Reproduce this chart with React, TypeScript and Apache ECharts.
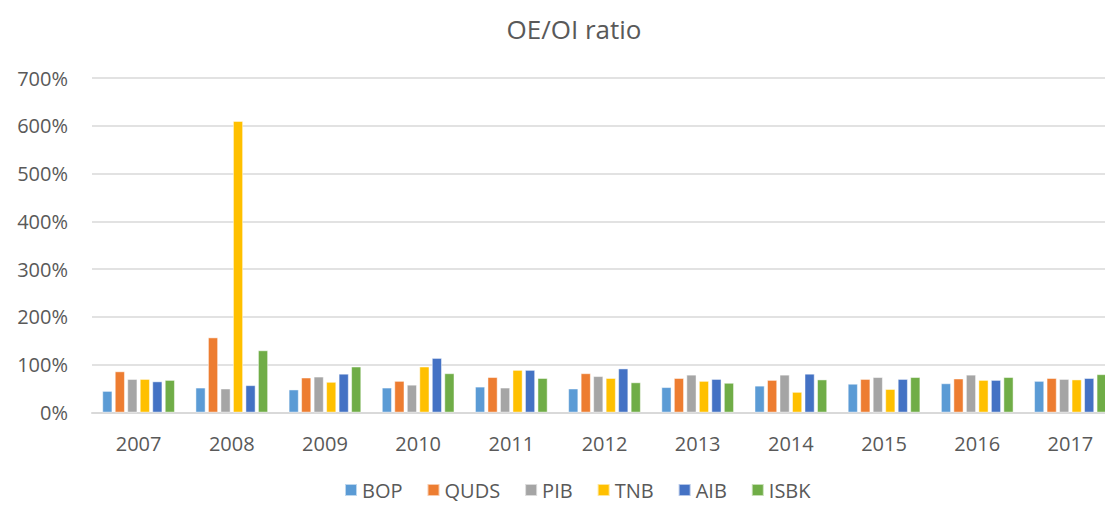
import React, { useEffect, useRef } from "react";
import * as echarts from "echarts";

const years = ["2007", "2008", "2009", "2010", "2011", "2012", "2013", "2014", "2015", "2016", "2017"];
const BOP = [45, 52, 48, 52, 54, 50, 53, 56, 60, 61, 66];
const QUDS = [86, 157, 73, 66, 74, 82, 72, 68, 70, 71, 72];
const PIB = [70, 50, 75, 58, 52, 76, 79, 79, 74, 79, 70];
const TNB = [70, 610, 64, 96, 89, 72, 66, 43, 49, 68, 69];
const AIB = [65, 57, 81, 114, 89, 92, 70, 81, 70, 68, 72];
const ISBK = [68, 130, 96, 82, 72, 63, 62, 69, 74, 74, 80];

const seriesNames = ["BOP", "QUDS", "PIB", "TNB", "AIB", "ISBK"];
const seriesData = [BOP, QUDS, PIB, TNB, AIB, ISBK];
const colors = ["#5B9BD5", "#ED7D31", "#A5A5A5", "#FFC000", "#4472C4", "#70AD47"];

export default function App() {
  const ref = useRef<HTMLDivElement>(null);
  useEffect(() => {
    const chart = echarts.init(ref.current!, null, { renderer: "svg" });
    const font = "'Open Sans', 'Noto Sans', sans-serif";
    chart.setOption({
      animation: false,
      color: colors,
      title: {
        text: "OE/OI ratio",
        left: 569,
        top: 11,
        textAlign: "center",
        textStyle: { fontSize: 26, fontWeight: "normal", color: "#595959", fontFamily: font },
      },
      grid: { left: 92, right: 0, top: 78, height: 334.5, containLabel: false },
      legend: {
        data: seriesNames,
        left: 339,
        bottom: 31,
        itemWidth: 12,
        itemHeight: 12,
        itemGap: 24,
        icon: "rect",
        textStyle: { fontSize: 20, color: "#595959", fontFamily: font },
      },
      xAxis: {
        type: "category",
        data: years,
        axisTick: { show: false },
        axisLine: { lineStyle: { color: "#D9D9D9", width: 2 } },
        axisLabel: { fontSize: 20, color: "#595959", fontFamily: font, margin: 21 },
      },
      yAxis: {
        type: "value",
        min: 0,
        max: 700,
        interval: 100,
        axisLabel: { formatter: "{value}%", fontSize: 20, color: "#595959", fontFamily: font, margin: 24 },
        splitLine: { lineStyle: { color: "#D9D9D9", width: 1.5 } },
        axisLine: { show: false },
        axisTick: { show: false },
      },
      series: seriesNames.map((name, i) => ({
        name,
        type: "bar",
        data: seriesData[i],
        barWidth: 10,
        barGap: "25%",
        itemStyle: { color: colors[i], borderColor: "rgba(255,255,255,0.6)", borderWidth: 0.8 },
      })),
    });
    return () => chart.dispose();
  }, []);
  return (
    <div style={{ position: "fixed", left: 0, top: 0, width: 1105, height: 506, overflow: "hidden", background: "#fff" }}>
      <div ref={ref} style={{ width: 1117, height: 536 }} />
    </div>
  );
}
